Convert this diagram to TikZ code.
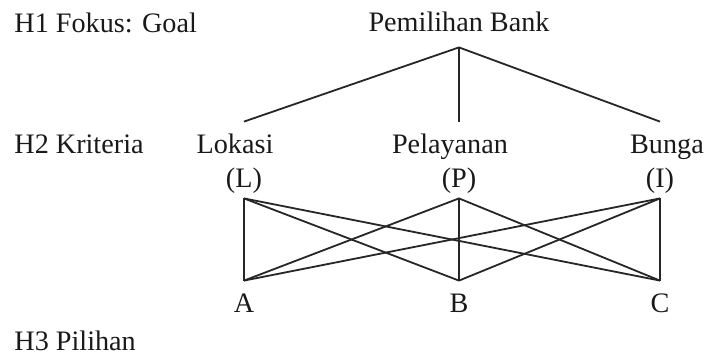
\documentclass[tikz,border=0pt]{standalone}
\usepackage{fontspec}
\setmainfont{Liberation Serif}
\usepackage{tikz}

\begin{document}
\begin{tikzpicture}[x=0.5pt, y=-0.5pt,
    txt/.style={font=\fontsize{14.1pt}{17pt}\selectfont, text=black!90, anchor=base,
      inner xsep=0pt, inner ysep=5.5pt, text height=10pt, text depth=2.5pt},
    abbr/.style={txt, inner ysep=3pt},
    hier/.style={txt, anchor=base west},
    link/.style={draw=black!85, line width=0.9pt}]
  \useasboundingbox (0,0) rectangle (708,355);
  % hierarchy levels
  \node [hier] (h1) at (14,32) {H1 Fokus: Goal};
  \node [hier] (h2) at (14,153) {H2 Kriteria};
  \node [hier] (h3) at (14,350) {H3 Pilihan};
  % goal
  \node [txt] (bank) at (459,31) {Pemilihan Bank};
  % criteria
  \node [txt] (lok) at (235,153) {Lokasi};
  \node [txt] (pel) at (450,153) {Pelayanan};
  \node [txt] (bng) at (667,153) {Bunga};
  \node [abbr] (l) at (244,187) {(L)};
  \node [abbr] (p) at (459,187) {(P)};
  \node [abbr] (i) at (660,187) {(I)};
  % alternatives
  \node [txt] (a) at (244,312) {A};
  \node [txt] (b) at (459,312) {B};
  \node [txt] (c) at (660,312) {C};

  \draw [link] (bank.south) -- (l |- lok.north);
  \draw [link] (bank.south) -- (p |- pel.north);
  \draw [link] (bank.south) -- (i |- bng.north);
  \foreach \k in {l,p,i}
    \foreach \x in {a,b,c}
      \draw [link] (\k.south) -- (\x.north);
\end{tikzpicture}
\end{document}
